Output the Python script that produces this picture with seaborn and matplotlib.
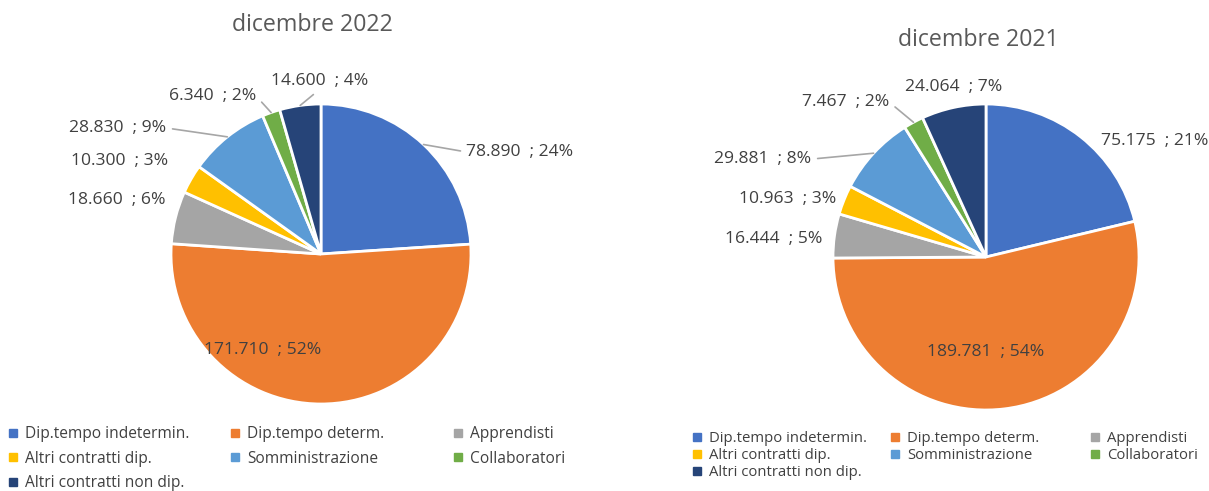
import numpy as np
import matplotlib.pyplot as plt
import seaborn as sns
from matplotlib.lines import Line2D

categorie = ["Dip.tempo indetermin.", "Dip.tempo determ.", "Apprendisti",
             "Altri contratti dip.", "Somministrazione", "Collaboratori",
             "Altri contratti non dip."]
valori_2022 = [78890, 171710, 18660, 10300, 28830, 6340, 14600]
valori_2021 = [75175, 189781, 16444, 10963, 29881, 7467, 24064]
titoli = ["dicembre 2022", "dicembre 2021"]
colori = ["#4472C4", "#ED7D31", "#A5A5A5", "#FFC000", "#5B9BD5", "#70AD47", "#264478"]

sns.set_theme(style="white")
plt.rcParams["font.family"] = ["Open Sans", "DejaVu Sans"]

TESTO = "#404040"
GRIGIO = "#595959"
LINEA = "#A6A6A6"

# posizioni etichette (dx, dy in raggi, allineamento, linea guida)
pos_2022 = [(0.97, 0.68, "left", True), (-0.39, -0.64, "center", False),
            (-1.04, 0.36, "right", False), (-1.02, 0.62, "right", False),
            (-1.03, 0.84, "right", True), (-0.43, 1.05, "right", True),
            (-0.01, 1.15, "center", True)]
pos_2021 = [(0.75, 0.76, "left", False), (0.0, -0.62, "center", False),
            (-1.07, 0.12, "right", False), (-0.98, 0.38, "right", False),
            (-1.14, 0.64, "right", True), (-0.63, 1.01, "right", True),
            (-0.21, 1.11, "center", False)]


def etichetta(v, tot):
    return f"{v:,}".replace(",", ".") + f"  ; {round(100 * v / tot)}%"


def torta(ax, valori, posizioni):
    tot = sum(valori)
    ax.pie(valori, colors=colori, startangle=90, counterclock=False,
           wedgeprops=dict(edgecolor="white", linewidth=2))
    ax.set_xlim(-1, 1)
    ax.set_ylim(-1, 1)
    cum = 0
    for v, (dx, dy, ha, guida) in zip(valori, posizioni):
        ang = np.deg2rad(90 - 360 * (cum + v / 2) / tot)
        cum += v
        testo = etichetta(v, tot)
        if guida:
            rel = {"left": (0, 0.5), "right": (1, 0.5), "center": (0.5, 0)}[ha]
            ax.annotate(testo, xy=(np.cos(ang), np.sin(ang)), xytext=(dx, dy),
                        ha=ha, va="center", fontsize=12.6, color=TESTO,
                        annotation_clip=False,
                        arrowprops=dict(arrowstyle="-", color=LINEA, lw=1.2,
                                        relpos=rel, shrinkA=2, shrinkB=0))
        else:
            ax.text(dx, dy, testo, ha=ha, va="center", fontsize=12.6, color=TESTO)


def legenda(fig, xs, y_top, spazio, fs):
    colonne = [[0, 3, 6], [1, 4], [2, 5]]
    for x, col in zip(xs, colonne):
        handles = [Line2D([], [], marker="s", linestyle="none", markersize=6,
                          markerfacecolor=colori[i], markeredgecolor=colori[i])
                   for i in col]
        fig.legend(handles, [categorie[i] for i in col], loc="upper left",
                   bbox_to_anchor=(x, y_top), frameon=False, borderpad=0,
                   borderaxespad=0, handlelength=0.6, handletextpad=0.5,
                   labelspacing=spazio, fontsize=fs, labelcolor=TESTO)


W, H = 1209, 491
fig = plt.figure(figsize=(W / 100, H / 100), dpi=100)

ax1 = fig.add_axes([(321 - 150) / W, (H - 254 - 150) / H, 300 / W, 300 / H])
torta(ax1, valori_2022, pos_2022)
ax2 = fig.add_axes([(986 - 153) / W, (H - 257 - 153) / H, 306 / W, 306 / H])
torta(ax2, valori_2021, pos_2021)

fig.text(312 / W, 1 - 25 / H, titoli[0], ha="center", va="center",
         fontsize=16.7, color=GRIGIO)
fig.text(978 / W, 1 - 40 / H, titoli[1], ha="center", va="center",
         fontsize=16.7, color=GRIGIO)

legenda(fig, [8 / W, 230 / W, 453 / W], 1 - 426 / H, 0.55, 11.2)
legenda(fig, [693 / W, 891 / W, 1091 / W], 1 - 431 / H, 0.15, 10.7)

fig.savefig("out.png", dpi=100, facecolor="white")
